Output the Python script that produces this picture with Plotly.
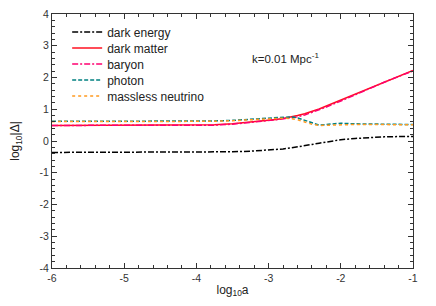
import plotly.graph_objects as go

log_a = [-6, -5.5, -5, -4.5, -4, -3.75, -3.5, -3.25, -3.0, -2.9, -2.8, -2.7, -2.6,
         -2.5, -2.4, -2.3, -2.2, -2.0, -1.8, -1.6, -1.4, -1.2, -1.0]

dark_energy = [-0.36, -0.36, -0.36, -0.36, -0.36, -0.35, -0.34, -0.32, -0.29, -0.27, -0.25,
               -0.22, -0.19, -0.15, -0.11, -0.07, -0.03, 0.04, 0.08, 0.11, 0.13, 0.14, 0.14]
dark_matter = [0.49, 0.49, 0.49, 0.495, 0.50, 0.51, 0.54, 0.59, 0.65, 0.68, 0.71, 0.75, 0.80,
               0.86, 0.93, 1.01, 1.10, 1.29, 1.48, 1.67, 1.86, 2.04, 2.22]
baryon = [0.49, 0.49, 0.49, 0.49, 0.49, 0.50, 0.53, 0.58, 0.64, 0.67, 0.70, 0.72, 0.76,
          0.82, 0.90, 0.98, 1.07, 1.26, 1.46, 1.66, 1.85, 2.03, 2.21]
photon = [0.62, 0.62, 0.62, 0.62, 0.62, 0.63, 0.65, 0.68, 0.71, 0.72, 0.74, 0.76, 0.73,
          0.65, 0.56, 0.50, 0.52, 0.56, 0.54, 0.53, 0.53, 0.52, 0.52]
neutrino = [0.61, 0.61, 0.61, 0.61, 0.61, 0.62, 0.64, 0.67, 0.70, 0.71, 0.72, 0.71, 0.67,
            0.60, 0.53, 0.49, 0.50, 0.52, 0.52, 0.52, 0.51, 0.51, 0.51]

x_ticks = [-6, -5, -4, -3, -2, -1]
x_ticklabels = ["-6", "-5", "-4", "-3", "-2", "-1"]
y_ticks = [-4, -3, -2, -1, 0, 1, 2, 3, 4]
y_ticklabels = ["-4", "-3", "-2", "-1", "0", "1", "2", "3", "4"]

series = [
    ("dark energy", dark_energy, "#000000", "6px,2px,2px,2px"),
    ("dark matter", dark_matter, "#ff1020", "solid"),
    ("baryon", baryon, "#ff0070", "6px,2px,2px,2px"),
    ("photon", photon, "#008080", "4px,2px"),
    ("massless neutrino", neutrino, "#ff9a20", "dot"),
]

# one legend per entry so the entries can sit 16 px apart as in the reference
legend_ids = ["legend", "legend2", "legend3", "legend4", "legend5"]
entry_centers_px = [32, 48, 64, 80, 96]
plot_top, plot_h = 14, 254

fig = go.Figure()
for (name, vals, color, dash), lid in zip(series, legend_ids):
    fig.add_trace(go.Scatter(x=log_a, y=vals, name=name, mode="lines", legend=lid,
                             line=dict(color=color, dash=dash, width=1.5)))

axis_common = dict(
    showline=True, linecolor="#333", linewidth=1.2, mirror="allticks",
    ticks="inside", ticklen=5, tickcolor="#333", tickwidth=1.2,
    showgrid=False, zeroline=False, automargin=False, ticklabeloverflow="allow",
    tickfont=dict(size=10.5, color="#333"),
    minor=dict(ticks="inside", ticklen=3, dtick=0.2, tickcolor="#333", tickwidth=1, showgrid=False),
)

fig.update_xaxes(range=[-6, -1], tickvals=x_ticks, ticktext=x_ticklabels,
                 title=dict(text="log<sub>10</sub>a", font=dict(size=12, color="#222"), standoff=2),
                 **axis_common)
fig.update_yaxes(range=[-4, 4], tickvals=y_ticks, ticktext=y_ticklabels,
                 title=dict(text="log<sub>10</sub>|Δ|", font=dict(size=12, color="#222"), standoff=21),
                 **axis_common)

fig.add_annotation(x=-2.76, y=2.6, xref="x", yref="y", text="k=0.01 Mpc<sup>-1</sup>",
                   showarrow=False, font=dict(size=11.5, color="#222"))

legend_layout = {}
for lid, py in zip(legend_ids, entry_centers_px):
    legend_layout[lid] = dict(x=0.042, y=1 - (py - plot_top) / plot_h, xanchor="left", yanchor="middle",
                              bgcolor="rgba(0,0,0,0)", font=dict(size=12), itemwidth=30,
                              tracegroupgap=0)

# the page body keeps its default 8 px margin, so the figure is 8 px smaller each way
fig.update_layout(
    width=428, height=298,
    margin=dict(l=44, r=23, t=6, b=38),
    paper_bgcolor="white", plot_bgcolor="white",
    font=dict(family="Liberation Sans, Arial, sans-serif", color="#222"),
    showlegend=True,
    **legend_layout,
)

fig.write_html("out.html")
